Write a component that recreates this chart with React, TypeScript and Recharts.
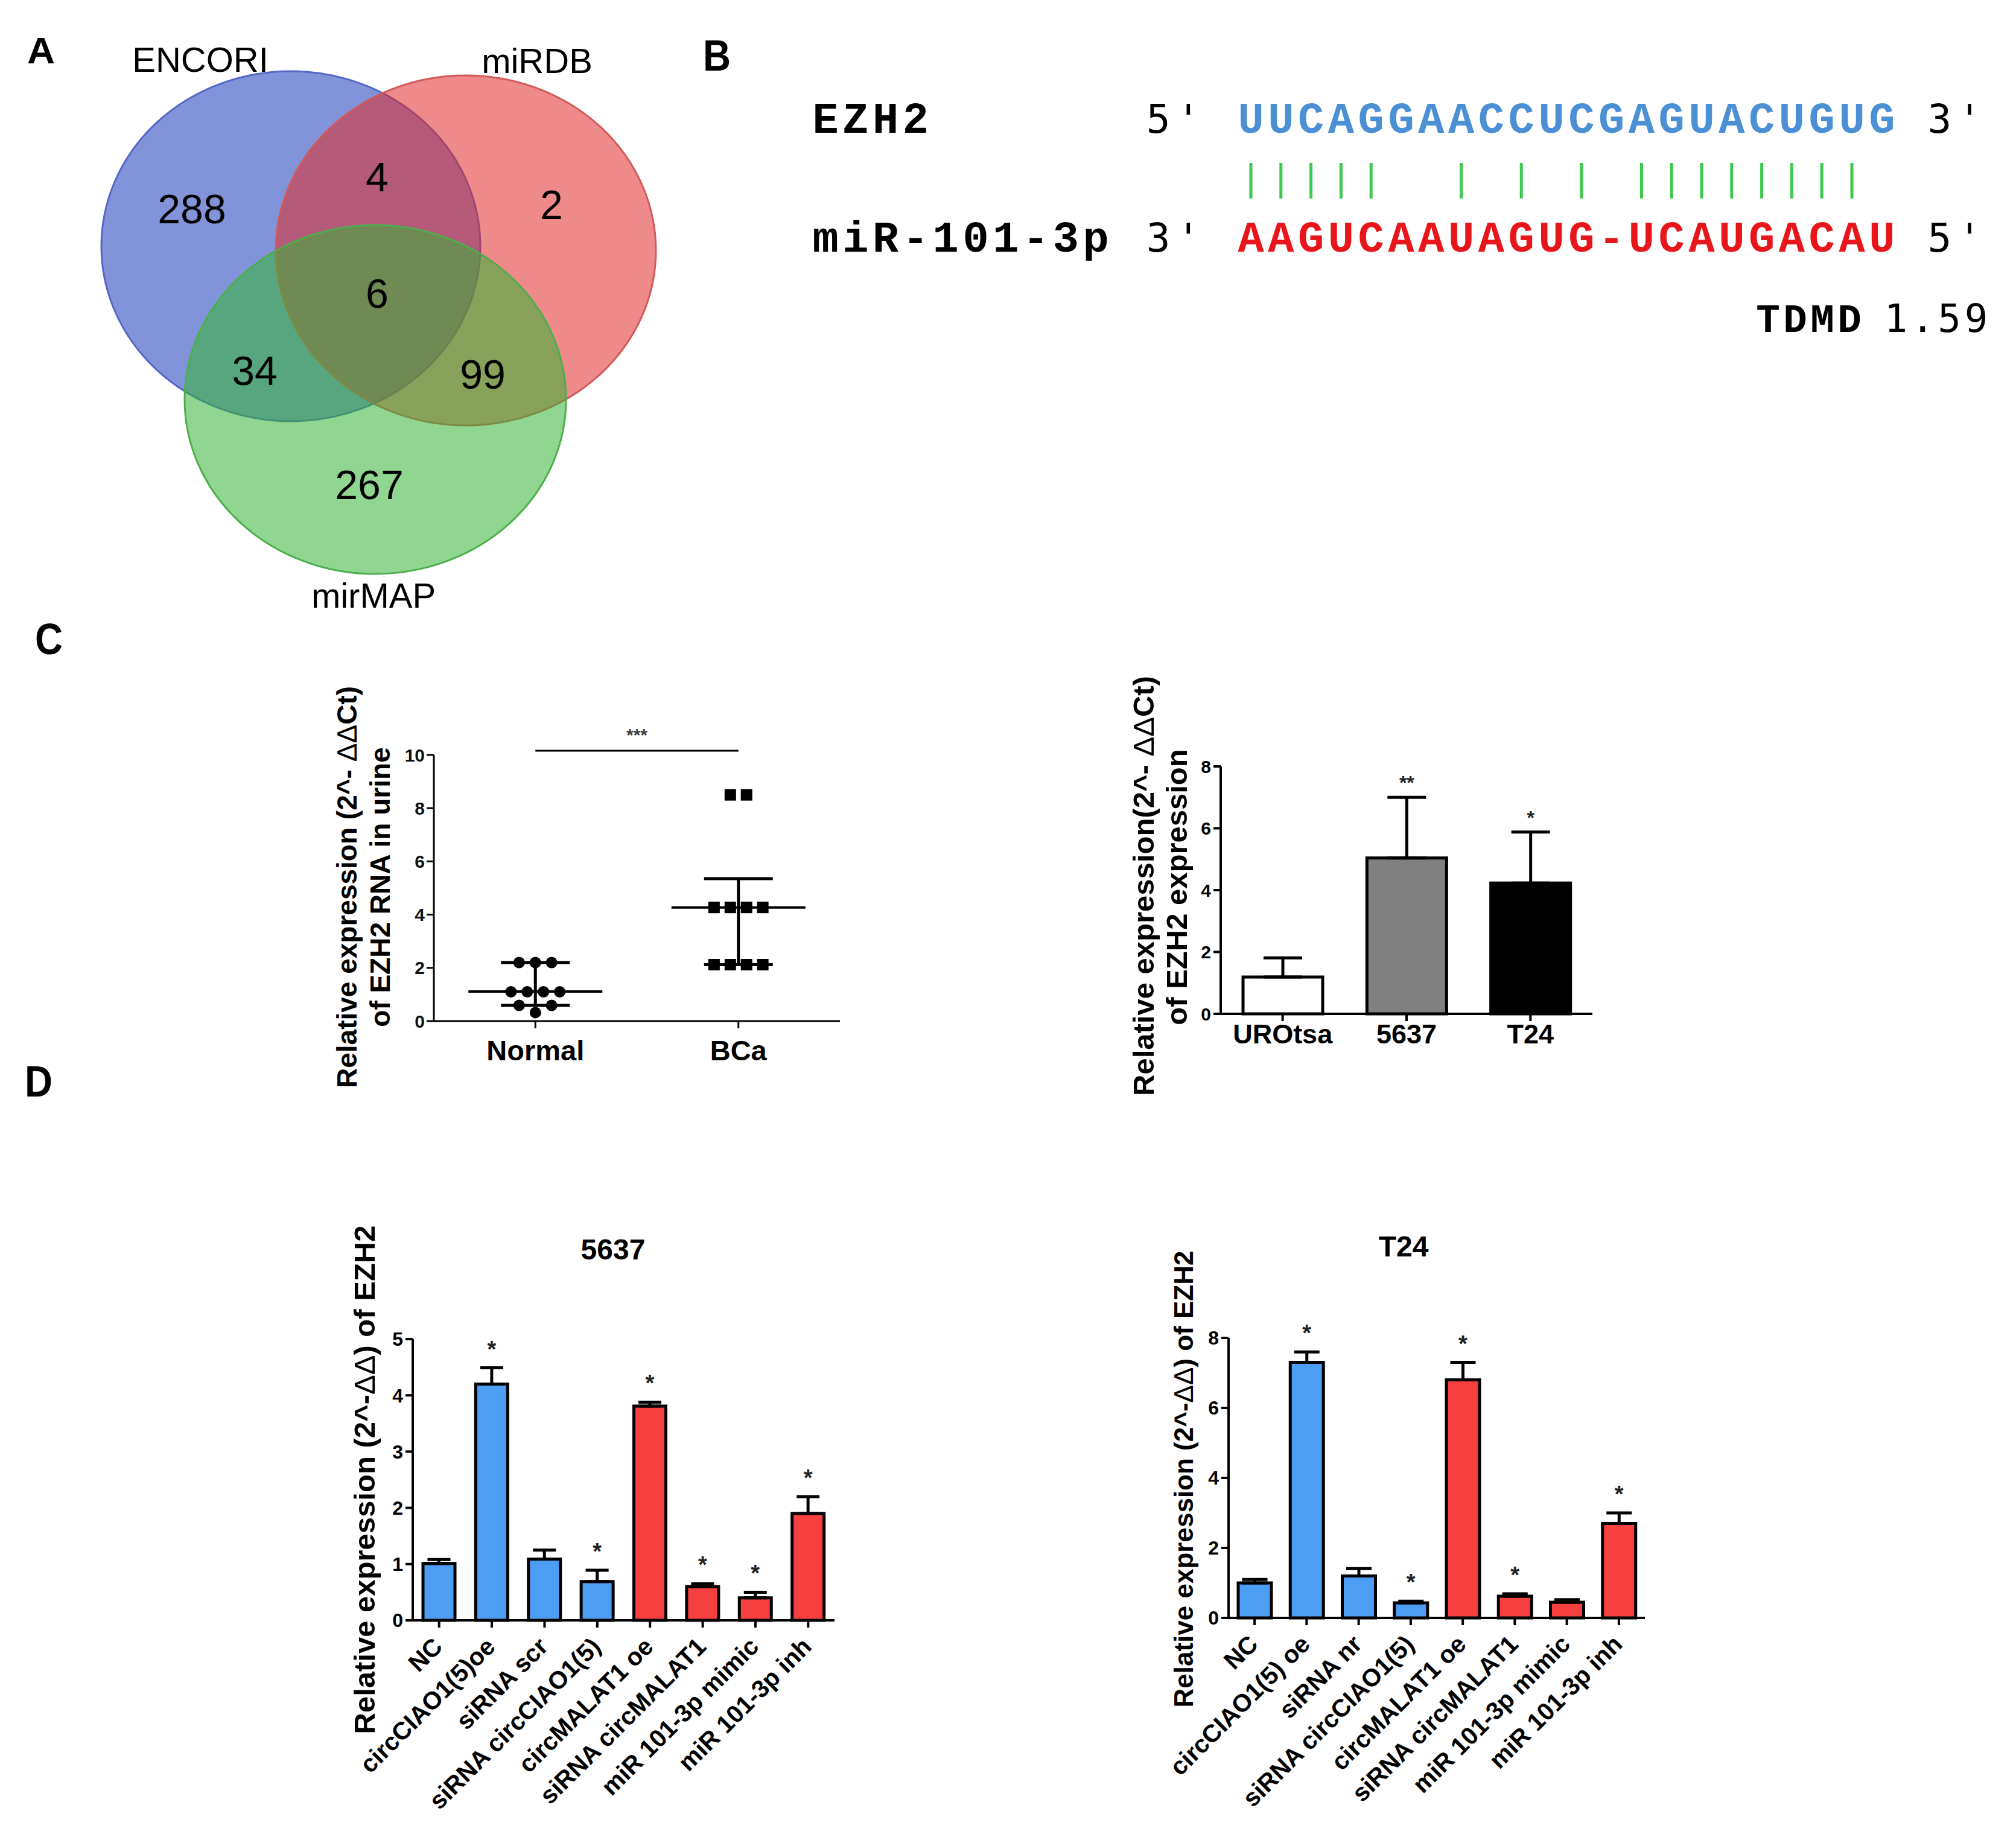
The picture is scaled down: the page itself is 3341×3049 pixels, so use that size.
// EZH2 / miR-101-3p figure: Venn (A), duplex (B), urine + cell-line qPCR (C), rescue bars (D)
import React from 'react';
import {
    ScatterChart,
    Scatter,
    BarChart,
    Bar,
    Cell,
    XAxis,
    YAxis,
    ErrorBar,
    LabelList,
    ReferenceLine,
} from 'recharts';

const SANS = '"Liberation Sans", Arial, Helvetica, sans-serif';
const MONO = '"Liberation Mono", "Courier New", monospace';
const SANS_MONO = '"DejaVu Sans Mono", monospace';

// ---------- data ----------

// A: Venn of predicted miRNAs
const vennSets = ['ENCORI', 'miRDB', 'mirMAP'];
// ENCORI only, ENCORI+miRDB, miRDB only, all three, ENCORI+mirMAP, miRDB+mirMAP, mirMAP only
const vennCounts = [288, 4, 2, 6, 34, 99, 267];

// B: binding duplex
const targetName = 'EZH2';
const targetSeq = 'UUCAGGAACCUCGAGUACUGUG';
const mirName = 'miR-101-3p';
const mirSeq = 'AAGUCAAUAGUG-UCAUGACAU';
const tdmdLabel = 'TDMD';
const tdmdScore = '1.59';

// C left: EZH2 RNA in urine
const dotGroups = ['Normal', 'BCa'];
const normalValues = [2.2, 2.2, 2.2, 1.1, 1.1, 1.1, 1.1, 0.59, 0.32, 0.59];
const bcaValues = [8.5, 8.5, 4.27, 4.27, 4.27, 4.27, 2.12, 2.12, 2.12, 2.12];
const dotCenter = [1.11, 4.27];
const dotLow = [0.59, 2.12];
const dotHigh = [2.2, 5.35];
const dotSig = '***';

// C right: cell lines
const cellLines = ['UROtsa', '5637', 'T24'];
const cellMean = [1.19, 5.04, 4.23];
const cellSd = [0.62, 1.96, 1.65];
const cellSig = ['', '**', '*'];

// D: treatments
const labels5637 = [
    'NC',
    'circCIAO1(5)oe',
    'siRNA scr',
    'siRNA circCIAO1(5)',
    'circMALAT1 oe',
    'siRNA circMALAT1',
    'miR 101-3p mimic',
    'miR 101-3p inh',
];
const mean5637 = [1.01, 4.2, 1.09, 0.69, 3.81, 0.6, 0.4, 1.9];
const sd5637 = [0.07, 0.29, 0.16, 0.2, 0.07, 0.05, 0.1, 0.3];
const sig5637 = ['', '*', '', '*', '*', '*', '*', '*'];

const labelsT24 = [
    'NC',
    'circCIAO1(5) oe',
    'siRNA nr',
    'siRNA circCIAO1(5)',
    'circMALAT1 oe',
    'siRNA circMALAT1',
    'miR 101-3p mimic',
    'miR 101-3p inh',
];
const meanT24 = [1.0, 7.3, 1.2, 0.43, 6.8, 0.62, 0.45, 2.7];
const sdT24 = [0.1, 0.3, 0.21, 0.05, 0.5, 0.07, 0.07, 0.3];
const sigT24 = ['', '*', '', '*', '*', '*', '', '*'];

// ---------- layout / style ----------

const BLUE = '#4d9df5';
const RED = '#f63f3f';
const barColor = (i: number) => (i < 4 ? BLUE : RED);
const cellFill = ['#ffffff', '#808080', '#000000'];

// Venn geometry in page pixels (the chart domain equals its pixel size)
const VENN_CIRCLES = [
    { cx: 482, cy: 408, rx: 314, ry: 290, fill: '#2846be', opacity: 0.58, stroke: '#5567c6' },
    { cx: 772, cy: 415, rx: 315, ry: 290, fill: '#e02a2a', opacity: 0.55, stroke: '#d35858' },
    { cx: 622, cy: 662, rx: 316, ry: 289, fill: '#34b434', opacity: 0.55, stroke: '#4dae4d' },
];
const VENN_SET_POS = [
    [332, 119],
    [890, 121],
    [619, 1007],
];
const VENN_REGION_POS = [
    [318, 370],
    [625, 317],
    [914, 363],
    [625, 510],
    [422, 638],
    [800, 644],
    [612, 827],
];

const axisStyle = (w: number) => ({ stroke: '#000', strokeWidth: w });

// ---------- A ----------

const VennChart = () => {
    const circles = vennSets.map((name, i) => ({ name, i, x: VENN_CIRCLES[i].cx, y: VENN_CIRCLES[i].cy }));
    const setLabels = vennSets.map((name, i) => ({ name, x: VENN_SET_POS[i][0], y: VENN_SET_POS[i][1] }));
    const regions = vennCounts.map((c, i) => ({ name: String(c), x: VENN_REGION_POS[i][0], y: VENN_REGION_POS[i][1] }));

    const ellipse = (p: any) => {
        const c = VENN_CIRCLES[p.payload.i];
        return (
            <ellipse
                cx={p.cx}
                cy={p.cy}
                rx={c.rx}
                ry={c.ry}
                fill={c.fill}
                fillOpacity={c.opacity}
                stroke={c.stroke}
                strokeWidth={3}
            />
        );
    };
    const textShape = (size: number) => (p: any) => (
        <text x={p.cx} y={p.cy} textAnchor="middle" fontSize={size} fontFamily={SANS} fill="#000">
            {p.payload.name}
        </text>
    );

    return (
        <ScatterChart width={1150} height={1020} margin={{ top: 0, right: 0, bottom: 0, left: 0 }}>
            <XAxis type="number" dataKey="x" domain={[0, 1150]} hide />
            <YAxis type="number" dataKey="y" domain={[0, 1020]} reversed hide />
            <Scatter data={circles} shape={ellipse} isAnimationActive={false} />
            <Scatter data={setLabels} shape={textShape(58)} isAnimationActive={false} />
            <Scatter data={regions} shape={textShape(68)} isAnimationActive={false} />
        </ScatterChart>
    );
};

// ---------- C left ----------

const spreadRows = (values: number[], group: number, step: number, tol: number) => {
    const rows: number[][] = [];
    values.forEach((v) => {
        const last = rows[rows.length - 1];
        if (last && Math.abs(last[0] - v) <= tol) last.push(v);
        else rows.push([v]);
    });
    const pts: { x: number; y: number }[] = [];
    rows.forEach((row) =>
        row.forEach((v, k) => pts.push({ x: group + 0.5 + (k - (row.length - 1) / 2) * step, y: v })),
    );
    return pts;
};

const DotPlot = () => {
    const normalPts = spreadRows(normalValues, 0, 0.08, 0.3);
    const bcaPts = spreadRows(bcaValues, 1, 0.08, 0.3);
    const summary = dotGroups.map((g, i) => ({
        name: g,
        x: i + 0.5,
        y: dotCenter[i],
        err: [dotCenter[i] - dotLow[i], dotHigh[i] - dotCenter[i]],
    }));

    return (
        <ScatterChart width={950} height={700} margin={{ top: 151, right: 58, bottom: 28, left: 0 }}>
            <XAxis
                type="number"
                dataKey="x"
                domain={[0, 2]}
                ticks={[0.5, 1.5]}
                tickFormatter={(v: number) => dotGroups[Math.floor(v)]}
                height={80}
                axisLine={axisStyle(3)}
                tickLine={axisStyle(3)}
                tickSize={12}
                tickMargin={20}
                tick={{ fill: '#000', fontSize: 47, fontWeight: 700, fontFamily: SANS }}
            />
            <YAxis
                type="number"
                dataKey="y"
                domain={[0, 10]}
                ticks={[0, 2, 4, 6, 8, 10]}
                width={219}
                axisLine={axisStyle(3)}
                tickLine={axisStyle(3)}
                tickSize={12}
                tickMargin={3}
                tick={{ fill: '#111', fontSize: 30, fontWeight: 700, fontFamily: SANS }}
            />
            <ReferenceLine
                segment={[
                    { x: 0.5, y: 10.16 },
                    { x: 1.5, y: 10.16 },
                ]}
                ifOverflow="visible"
                stroke="#000"
                strokeWidth={3}
                label={{ value: dotSig, position: 'top', offset: 16, fill: '#444', fontSize: 30, fontWeight: 700 }}
            />
            <Scatter
                data={normalPts}
                isAnimationActive={false}
                shape={(p: any) => <circle cx={p.cx} cy={p.cy} r={9.5} fill="#000" />}
            />
            <Scatter
                data={bcaPts}
                isAnimationActive={false}
                shape={(p: any) => <rect x={p.cx - 9.5} y={p.cy - 9.5} width={19} height={19} fill="#000" />}
            />
            <Scatter
                data={summary}
                isAnimationActive={false}
                shape={(p: any) => (
                    <line x1={p.cx - 111} x2={p.cx + 111} y1={p.cy} y2={p.cy} stroke="#000" strokeWidth={4} />
                )}
            >
                <ErrorBar dataKey="err" direction="y" width={57} stroke="#000" strokeWidth={5} />
            </Scatter>
        </ScatterChart>
    );
};

// ---------- bar helpers ----------

const starLabel =
    (sig: string[], sd: number[], mean: number[], fontSize: number, gap: number) => (props: any) => {
        const vb = props.viewBox ?? props;
        const i = props.index;
        const text = sig[i];
        if (!text) return null;
        const x = Number(vb.x ?? props.x);
        const y = Number(vb.y ?? props.y);
        const w = Number(vb.width ?? props.width);
        const h = Number(vb.height ?? props.height);
        const pxPerUnit = h / mean[i];
        const top = y - sd[i] * pxPerUnit;
        return (
            <text
                key={`star-${i}`}
                x={x + w / 2}
                y={top - gap}
                textAnchor="middle"
                fontSize={fontSize}
                fontWeight={700}
                fontFamily={SANS}
                fill="#222"
            >
                {text}
            </text>
        );
    };

const SlantTick = (p: any) => (
    <g transform={`translate(${p.x + 8},${p.y + 30})`}>
        <text
            textAnchor="end"
            transform="rotate(-45)"
            fontSize={41}
            fontWeight={700}
            fontFamily={SANS}
            fill="#000"
        >
            {p.payload.value}
        </text>
    </g>
);

// ---------- C right ----------

const CellLineBars = () => {
    const rows = cellLines.map((name, i) => ({ name, mean: cellMean[i], err: [0, cellSd[i]] }));
    return (
        <BarChart width={900} height={700} data={rows} margin={{ top: 170, right: 81, bottom: 30, left: 0 }}>
            <XAxis
                dataKey="name"
                height={90}
                axisLine={axisStyle(4)}
                tickLine={axisStyle(4)}
                tickSize={12}
                tickMargin={5}
                tick={{ fill: '#000', fontSize: 45, fontWeight: 700, fontFamily: SANS }}
            />
            <YAxis
                domain={[0, 8]}
                ticks={[0, 2, 4, 6, 8]}
                width={203}
                axisLine={axisStyle(4)}
                tickLine={axisStyle(4)}
                tickSize={12}
                tickMargin={4}
                tick={{ fill: '#000', fontSize: 30, fontWeight: 700, fontFamily: SANS }}
            />
            <Bar dataKey="mean" barSize={132} stroke="#000" strokeWidth={5} isAnimationActive={false}>
                {rows.map((r, i) => (
                    <Cell key={r.name} fill={cellFill[i]} />
                ))}
                <ErrorBar dataKey="err" width={32} stroke="#000" strokeWidth={5} />
                <LabelList dataKey="mean" content={starLabel(cellSig, cellSd, cellMean, 32, 13)} />
            </Bar>
        </BarChart>
    );
};

// ---------- D ----------

interface TreatmentProps {
    labels: string[];
    mean: number[];
    sd: number[];
    sig: string[];
    yMax: number;
    yTicks: number[];
    width: number;
    top: number;
    right: number;
    yWidth: number;
    xHeight: number;
    barSize: number;
    capHalf: number;
}

const TreatmentBars = ({ labels, mean, sd, sig, yMax, yTicks, width, top, right, yWidth, xHeight, barSize, capHalf }: TreatmentProps) => {
    const rows = labels.map((name, i) => ({ name, mean: mean[i], err: [0, sd[i]] }));
    return (
        <BarChart width={width} height={1060} data={rows} margin={{ top, right, bottom: 25, left: 0 }}>
            <XAxis
                dataKey="name"
                height={xHeight}
                interval={0}
                axisLine={axisStyle(4)}
                tickLine={axisStyle(4)}
                tickSize={12}
                tickMargin={4}
                tick={(p: any) => <SlantTick {...p} />}
            />
            <YAxis
                domain={[0, yMax]}
                ticks={yTicks}
                width={yWidth}
                axisLine={axisStyle(4)}
                tickLine={axisStyle(4)}
                tickSize={12}
                tickMargin={4}
                tick={{ fill: '#000', fontSize: 32, fontWeight: 700, fontFamily: SANS }}
            />
            <Bar dataKey="mean" barSize={barSize} stroke="#000" strokeWidth={5} isAnimationActive={false}>
                {rows.map((r, i) => (
                    <Cell key={r.name} fill={barColor(i)} />
                ))}
                <ErrorBar dataKey="err" width={capHalf} stroke="#000" strokeWidth={5} />
                <LabelList dataKey="mean" content={starLabel(sig, sd, mean, 38, 18)} />
            </Bar>
        </BarChart>
    );
};

// ---------- overlay text (panel letters, duplex, axis titles) ----------

const PAIR: Record<string, string> = { A: 'U', U: 'A', G: 'C', C: 'G' };
const seqX = (j: number) => 2073 + 49.8 * j;

const Overlay = () => {
    const letters = [
        { t: 'A', x: 45, y: 105, s: 62 },
        { t: 'B', x: 1165, y: 117, s: 72 },
        { t: 'C', x: 58, y: 1084, s: 72 },
        { t: 'D', x: 41, y: 1817, s: 72 },
    ];
    const mono = { fontFamily: MONO, fontWeight: 700, fontSize: 72 } as const;
    const primeStyle = { fontFamily: SANS_MONO, fontSize: 66, fill: '#000' } as const;
    const matches = targetSeq.split('').map((c, j) => PAIR[c] === mirSeq[j]);

    return (
        <svg
            width={3341}
            height={3049}
            style={{ position: 'absolute', left: 0, top: 0, pointerEvents: 'none' }}
        >
            {letters.map((l) => (
                <text key={l.t} x={l.x} y={l.y} fontSize={l.s} fontWeight={700} fontFamily={SANS} textLength={46} lengthAdjust="spacingAndGlyphs">
                    {l.t}
                </text>
            ))}

            {/* B: duplex */}
            {targetName.split('').map((c, k) => (
                <text key={`tn${k}`} x={1368 + 49.8 * k} y={220} textAnchor="middle" {...mono} fill="#000">
                    {c}
                </text>
            ))}
            {mirName.split('').map((c, k) => (
                <text key={`mn${k}`} x={1368 + 49.8 * k} y={417} textAnchor="middle" {...mono} fill="#000">
                    {c}
                </text>
            ))}
            {[
                ['5', 220, -3],
                ["'", 220, -2],
                ['3', 220, 23],
                ["'", 220, 24],
                ['3', 417, -3],
                ["'", 417, -2],
                ['5', 417, 23],
                ["'", 417, 24],
            ].map(([c, y, j], k) => (
                <text key={`p${k}`} x={seqX(j as number) - 4} y={y as number} textAnchor="middle" {...primeStyle}>
                    {c as string}
                </text>
            ))}
            {targetSeq.split('').map((c, j) => (
                <text key={`t${j}`} x={seqX(j)} y={220} textAnchor="middle" {...mono} fill="#4b8fd4">
                    {c}
                </text>
            ))}
            {mirSeq.split('').map((c, j) => (
                <text key={`m${j}`} x={seqX(j)} y={417} textAnchor="middle" {...mono} fill="#e8151b">
                    {c}
                </text>
            ))}
            {matches.map((m, j) =>
                m ? (
                    <line key={`l${j}`} x1={seqX(j)} x2={seqX(j)} y1={270} y2={329} stroke="#3ec84f" strokeWidth={5} />
                ) : null,
            )}
            {tdmdLabel.split('').map((c, k) => (
                <text key={`td${k}`} x={2930 + 45 * k} y={550} textAnchor="middle" {...mono} fontSize={66} fill="#000">
                    {c}
                </text>
            ))}
            {tdmdScore.split('').map((c, k) => (
                <text key={`ts${k}`} x={3142 + 44.3 * k} y={550} textAnchor="middle" fontFamily={SANS_MONO} fontSize={64} fill="#000">
                    {c}
                </text>
            ))}

            {/* axis titles */}
            <g fontFamily={SANS} fontWeight={700} fill="#000" textAnchor="middle">
                <text transform="translate(591,1470) rotate(-90)" fontSize={46}>
                    Relative expression (2^- <tspan fontWeight={400}>ΔΔ</tspan>Ct)
                </text>
                <text transform="translate(646,1470) rotate(-90)" fontSize={46}>
                    of EZH2 RNA in urine
                </text>
                <text transform="translate(1912,1468) rotate(-90)" fontSize={49}>
                    Relative expression(2^- <tspan fontWeight={400}>ΔΔ</tspan>Ct)
                </text>
                <text transform="translate(1967,1470) rotate(-90)" fontSize={49}>
                    of EZH2 expression
                </text>
                <text transform="translate(621,2452) rotate(-90)" fontSize={49}>
                    Relative expression (2^-<tspan fontWeight={400}>ΔΔ</tspan>) of EZH2
                </text>
                <text transform="translate(1977,2451) rotate(-90)" fontSize={44}>
                    Relative expression (2^-<tspan fontWeight={400}>ΔΔ</tspan>) of EZH2
                </text>
                <text x={1016} y={2087} fontSize={48}>
                    5637
                </text>
                <text x={2326} y={2082} fontSize={48}>
                    T24
                </text>
            </g>
        </svg>
    );
};

export default function App() {
    return (
        <div
            style={{
                position: 'absolute',
                left: 0,
                top: 0,
                width: 3341,
                height: 3049,
                background: '#fff',
                overflow: 'hidden',
                fontFamily: SANS,
            }}
        >
            <div style={{ position: 'absolute', left: 0, top: 0 }}>
                <VennChart />
            </div>
            <div style={{ position: 'absolute', left: 500, top: 1100 }}>
                <DotPlot />
            </div>
            <div style={{ position: 'absolute', left: 1820, top: 1100 }}>
                <CellLineBars />
            </div>
            <div style={{ position: 'absolute', left: 520, top: 1980 }}>
                <TreatmentBars
                    labels={labels5637}
                    mean={mean5637}
                    sd={sd5637}
                    sig={sig5637}
                    yMax={5}
                    yTicks={[0, 1, 2, 3, 4, 5]}
                    width={900}
                    top={239}
                    right={37}
                    yWidth={164}
                    xHeight={330}
                    barSize={53}
                    capHalf={19}
                />
            </div>
            <div style={{ position: 'absolute', left: 1840, top: 1980 }}>
                <TreatmentBars
                    labels={labelsT24}
                    mean={meanT24}
                    sd={sdT24}
                    sig={sigT24}
                    yMax={8}
                    yTicks={[0, 2, 4, 6, 8]}
                    width={950}
                    top={237}
                    right={64}
                    yWidth={196}
                    xHeight={334}
                    barSize={55}
                    capHalf={21}
                />
            </div>
            <Overlay />
        </div>
    );
}
